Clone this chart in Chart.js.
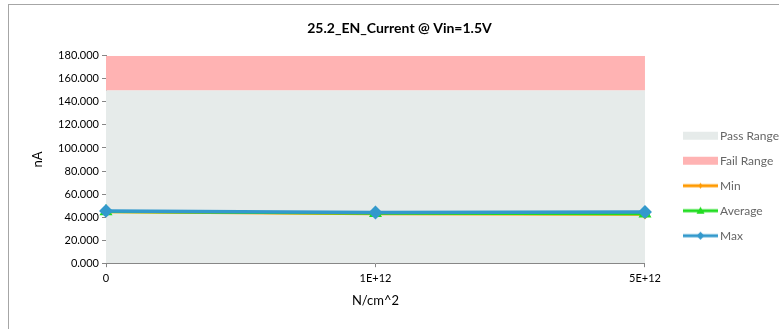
<!DOCTYPE html>
<html>
<head>
<meta charset="utf-8">
<script src="https://cdn.jsdelivr.net/npm/chart.js@4.4.1/dist/chart.umd.min.js"></script>
<style>
  html, body { margin: 0; padding: 0; background: #fff; }
  #wrap { position: relative; width: 779px; height: 329px; overflow: hidden; }
  #frame { position: absolute; left: 8px; top: 4px; width: 900px; height: 400px;
           border-left: 1px solid #a6a6a6; border-top: 1px solid #a6a6a6; }
  canvas { position: absolute; left: 0; top: 0; }
</style>
</head>
<body>
<div id="wrap">
  <div id="frame"></div>
  <canvas id="chart" width="779" height="329"></canvas>
</div>
<script>
// Données du graphique
const categories = ["0", "1E+12", "5E+12"];
const passRange = [150, 150, 150];
const failRange = [180, 180, 180];
const minValues = [44.6, 43.0, 42.4];
const avgValues = [44.9, 43.3, 43.0];
const maxValues = [45.4, 44.0, 44.4];
const yTicks = [0, 20, 40, 60, 80, 100, 120, 140, 160, 180];

const FONT = "Lato";

// Petites icônes pour la légende (partie gauche transparente pour décaler le symbole)
const ICON_W = 64;
const SYM_X = 29;
const SYM_W = 35;
function makeIcon(color, kind) {
  const c = document.createElement("canvas");
  c.width = ICON_W;
  c.height = 10;
  const g = c.getContext("2d");
  const mid = SYM_X + SYM_W / 2;
  if (kind === "box") {
    g.fillStyle = color;
    g.fillRect(SYM_X, 1, SYM_W, 8);
    return c;
  }
  g.strokeStyle = color;
  g.lineWidth = 3;
  g.beginPath();
  g.moveTo(SYM_X, 5);
  g.lineTo(SYM_X + SYM_W, 5);
  g.stroke();
  g.fillStyle = color;
  g.beginPath();
  if (kind === "triangle") {
    g.moveTo(mid, 1);
    g.lineTo(mid + 4, 8);
    g.lineTo(mid - 4, 8);
  } else if (kind === "diamond") {
    g.moveTo(mid, 1);
    g.lineTo(mid + 4, 5);
    g.lineTo(mid, 9);
    g.lineTo(mid - 4, 5);
  } else {
    g.moveTo(mid, 2);
    g.lineTo(mid + 2, 5);
    g.lineTo(mid, 8);
    g.lineTo(mid - 2, 5);
  }
  g.closePath();
  g.fill();
  return c;
}

const legendIcons = [
  makeIcon("#e6ebea", "box"),
  makeIcon("#ffb3b3", "box"),
  makeIcon("#ff9a00", "small"),
  makeIcon("#22dd22", "triangle"),
  makeIcon("#3399cc", "diamond"),
];

const ctx = document.getElementById("chart").getContext("2d");

new Chart(ctx, {
  type: "line",
  data: {
    labels: categories,
    datasets: [
      {
        label: "Pass Range",
        data: passRange,
        backgroundColor: "#e6ebea",
        borderWidth: 0,
        pointRadius: 0,
        fill: "origin",
        order: 10,
      },
      {
        label: "Fail Range",
        data: failRange,
        backgroundColor: "#ffb3b3",
        borderWidth: 0,
        pointRadius: 0,
        fill: "-1",
        order: 9,
      },
      {
        label: "Min",
        data: minValues,
        borderColor: "#ff9a00",
        backgroundColor: "#ff9a00",
        borderWidth: 3,
        pointStyle: "rectRot",
        pointRadius: 3,
        fill: false,
        order: 3,
      },
      {
        label: "Average",
        data: avgValues,
        borderColor: "#22dd22",
        backgroundColor: "#22dd22",
        borderWidth: 3,
        pointStyle: "triangle",
        pointRadius: 4.5,
        fill: false,
        order: 2,
      },
      {
        label: "Max",
        data: maxValues,
        borderColor: "#3399cc",
        backgroundColor: "#3399cc",
        borderWidth: 3.5,
        pointStyle: "rectRot",
        pointRadius: 4.5,
        fill: false,
        order: 1,
      },
    ],
  },
  options: {
    responsive: false,
    animation: false,
    layout: {
      padding: { left: 10, right: -10, top: 0, bottom: 20 },
    },
    plugins: {
      title: {
        display: true,
        text: "25.2_EN_Current @ Vin=1.5V",
        color: "#000",
        font: { family: FONT, size: 14, weight: "bold" },
        padding: { top: 20, bottom: 19 },
      },
      tooltip: { enabled: false },
      legend: {
        position: "right",
        align: "center",
        title: { display: true, text: "", padding: { top: 48, bottom: 0 } },
        labels: {
          color: "#000",
          font: { family: FONT, size: 12 },
          usePointStyle: true,
          pointStyleWidth: 56,
          padding: 13,
          generateLabels: function (chart) {
            return chart.data.datasets.map(function (ds, i) {
              return {
                text: ds.label,
                pointStyle: legendIcons[i],
                fillStyle: ds.backgroundColor,
                strokeStyle: "transparent",
                lineWidth: 0,
                hidden: false,
                datasetIndex: i,
              };
            });
          },
        },
      },
    },
    scales: {
      x: {
        type: "category",
        offset: false,
        grid: {
          display: true,
          drawOnChartArea: false,
          drawTicks: true,
          tickLength: 4,
          color: "#868686",
        },
        border: { color: "#868686", width: 1 },
        ticks: {
          color: "#000",
          font: { family: FONT, size: 11 },
          padding: 5,
          maxRotation: 0,
        },
        title: {
          display: true,
          text: "N/cm^2",
          color: "#000",
          font: { family: FONT, size: 13 },
          padding: { top: 3, bottom: 0 },
        },
      },
      y: {
        min: 0,
        max: 180,
        afterBuildTicks: function (scale) {
          scale.ticks = yTicks.map((v) => ({ value: v }));
        },
        afterFit: function (scale) {
          scale.width = 96;
        },
        grid: {
          display: true,
          drawOnChartArea: false,
          drawTicks: true,
          tickLength: 4,
          color: "#868686",
        },
        border: { color: "#868686", width: 1 },
        ticks: {
          color: "#000",
          font: { family: FONT, size: 11 },
          padding: 3,
          callback: function (value) {
            return Number(value).toFixed(3);
          },
        },
        title: {
          display: true,
          text: "nA",
          color: "#000",
          font: { family: FONT, size: 13 },
          padding: { top: 20, bottom: 4 },
        },
      },
    },
  },
});
</script>
</body>
</html>
